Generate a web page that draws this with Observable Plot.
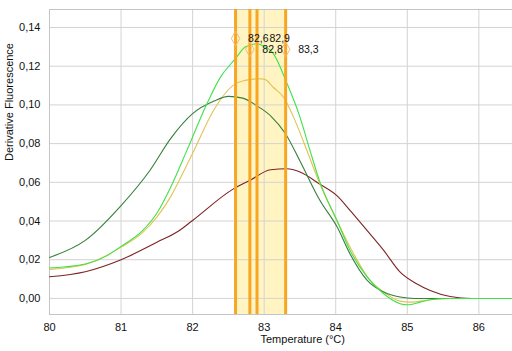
<!DOCTYPE html>
<html>
<head>
<meta charset="utf-8">
<script src="https://cdn.jsdelivr.net/npm/d3@7"></script>
<script src="https://cdn.jsdelivr.net/npm/@observablehq/plot@0.6"></script>
<style>
  html, body { margin: 0; padding: 0; background: #fff; }
  #chart svg { display: block; }
</style>
</head>
<body>
<div id="chart"></div>
<script>
// ---- data ----
const seriesNames = ["Sample D", "Sample C", "Sample A", "Sample B"];
const seriesColors = ["#7e2424", "#e3c252", "#35803a", "#3fe24a"];

const sampleAT = [80, 80.5, 81, 81.4, 81.7, 82, 82.3, 82.5, 82.7, 82.9, 83.1, 83.3, 83.5, 83.78, 84.02, 84.2, 84.44, 84.67, 84.9, 85.1, 85.5, 86, 86.5];
const sampleAV = [0.0212, 0.030, 0.048, 0.066, 0.083, 0.0955, 0.102, 0.1044, 0.1035, 0.0995, 0.094, 0.085, 0.071, 0.0506, 0.0369, 0.023, 0.0093, 0.0033, 0.0007, 0, 0, 0, 0];

const sampleBT = [80, 80.5, 80.8, 81, 81.3, 81.5, 81.7, 81.92, 82.2, 82.4, 82.53, 82.62, 82.74, 82.9, 82.97, 83.13, 83.32, 83.5, 83.62, 83.78, 84.02, 84.2, 84.44, 84.67, 84.9, 85.0, 85.18, 85.32, 85.6, 86, 86.5];
const sampleBV = [0.0157, 0.0178, 0.022, 0.0269, 0.035, 0.044, 0.058, 0.0765, 0.1006, 0.115, 0.121, 0.125, 0.130, 0.1316, 0.1307, 0.1264, 0.111, 0.0937, 0.079, 0.060, 0.040, 0.0248, 0.011, 0.0024, -0.0027, -0.0033, -0.0019, -0.0007, 0, 0, 0];

const sampleCT = [80, 80.5, 81, 81.3, 81.5, 81.7, 81.88, 82.02, 82.29, 82.6, 82.75, 82.92, 83.0, 83.13, 83.27, 83.41, 83.55, 83.78, 84.02, 84.25, 84.48, 84.67, 84.9, 85.04, 85.32, 85.6, 86, 86.5];
const sampleCV = [0.015, 0.0175, 0.0265, 0.034, 0.042, 0.053, 0.066, 0.0765, 0.097, 0.111, 0.1128, 0.1135, 0.1133, 0.109, 0.104, 0.0937, 0.081, 0.059, 0.040, 0.023, 0.0093, 0.0033, -0.0014, -0.0019, -0.0007, 0, 0, 0];

const sampleDT = [80, 80.5, 81, 81.5, 81.81, 82, 82.57, 82.8, 83.09, 83.32, 83.5, 83.78, 84.02, 84.2, 84.44, 84.67, 84.9, 85.13, 85.32, 85.6, 85.9, 86.5];
const sampleDV = [0.0112, 0.0138, 0.020, 0.029, 0.035, 0.0403, 0.0566, 0.061, 0.0665, 0.067, 0.0653, 0.059, 0.053, 0.0455, 0.035, 0.0248, 0.0136, 0.0076, 0.0041, 0.001, 0, 0];

const meltTemps = [82.6, 82.9, 82.8, 83.3];
const meltLabels = ["82,6", "82,9", "82,8", "83,3"];
const meltLabelHeights = [0.1343, 0.1343, 0.1287, 0.1287];
const meltMarkerShown = [true, false, true, true];
const shadeRange = [82.6, 83.3];

const xTicks = [80, 81, 82, 83, 84, 85, 86];
const yTicks = [0, 0.02, 0.04, 0.06, 0.08, 0.10, 0.12, 0.14];

// ---- build tables ----
const rows = [];
const add = (name, T, V) => T.forEach((t, i) => rows.push({series: name, T: t, v: V[i]}));
add("Sample D", sampleDT, sampleDV);
add("Sample C", sampleCT, sampleCV);
add("Sample A", sampleAT, sampleAV);
add("Sample B", sampleBT, sampleBV);

const melts = meltTemps.map((t, i) => ({T: t, label: meltLabels[i], h: meltLabelHeights[i], marker: meltMarkerShown[i]}));

const fmtY = d => d.toFixed(2).replace(".", ",");
const gridColor = "#d3d3d3";

const chart = Plot.plot({
  width: 512,
  height: 351,
  marginLeft: 49,
  marginRight: 0,
  marginTop: 9,
  marginBottom: 37,
  style: {fontFamily: "Liberation Sans, Arial, sans-serif", fontSize: "11px", color: "#111", background: "#fff"},
  x: {domain: [80, 86.47]},
  y: {domain: [-0.0083, 0.1493]},
  color: {type: "ordinal", domain: seriesNames, range: seriesColors},
  marks: [
    Plot.rect([{x1: shadeRange[0], x2: shadeRange[1]}], {x1: "x1", x2: "x2", fill: "#fff4c2"}),
    Plot.gridX(xTicks, {stroke: gridColor, strokeOpacity: 1}),
    Plot.gridY(yTicks, {stroke: gridColor, strokeOpacity: 1}),
    Plot.frame({stroke: "#c4c4c4"}),
    Plot.axisX({ticks: xTicks, tickSize: 0, tickPadding: 9, tickFormat: d => String(d), label: null, fontSize: 11}),
    Plot.axisY({ticks: yTicks, tickSize: 0, tickPadding: 9, tickFormat: fmtY, label: null, fontSize: 11}),
    Plot.line(rows, {x: "T", y: "v", z: "series", stroke: "series", strokeWidth: 1.1, curve: "monotone-x"}),
    Plot.ruleX(melts, {x: "T", stroke: "#f6a623", strokeWidth: 3}),
    Plot.dot(melts.filter(d => d.marker), {x: "T", y: "h", symbol: "diamond", r: 4.5, stroke: "#f8b878", strokeWidth: 1, fill: "none"}),
    Plot.text(melts, {x: "T", y: "h", text: "label", textAnchor: "start", dx: 12.5, fill: "#111", fontSize: 10.5}),
    Plot.text(["Temperature (°C)"], {frameAnchor: "bottom-left", dx: 211, dy: 28, textAnchor: "start", fill: "#111", fontSize: 11}),
    Plot.text(["Derivative Fluorescence"], {frameAnchor: "left", rotate: -90, dx: -40.5, dy: -1, fill: "#111", fontSize: 11})
  ]
});
document.getElementById("chart").appendChild(chart);
</script>
</body>
</html>
